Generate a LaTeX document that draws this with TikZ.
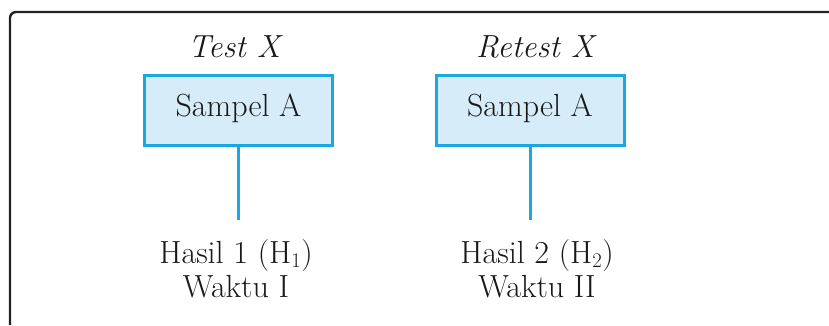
\documentclass[tikz,border=0pt]{standalone}
\usepackage{tikz}
\definecolor{boxline}{HTML}{1BA8E0}
\definecolor{boxfill}{HTML}{D6ECF9}
\definecolor{frameline}{HTML}{222222}
\begin{document}
\begin{tikzpicture}[x=1pt,y=-1pt,
  txt/.style={inner sep=0pt, font=\fontsize{32}{38}\selectfont, text=black!90},
  sbox/.style={draw=boxline, fill=boxfill, line width=3pt, minimum width=188pt, minimum height=70pt, inner sep=0pt},
  conn/.style={draw=boxline, line width=3pt},
  frame/.style={draw=frameline, line width=2.4pt}]
\useasboundingbox (0,0) rectangle (829,325);
% frame
\draw[frame] (10,325) -- (10,18) arc[start angle=180, end angle=270, radius=6] -- (829,12);
% boxes
\node[sbox] (b1) at (238.5,110.5) {};
\node[sbox] (b2) at (530,110.5) {};
\node[txt, anchor=base] (s1) at (238.5,116) {Sampel A};
\node[txt, anchor=base] (s2) at (530,116) {Sampel A};
% labels above
\node[txt, anchor=base] (t1) at (235.5,57) {\textit{Test X}};
\node[txt, anchor=base] (t2) at (536.5,57) {\textit{Retest X}};
% connectors
\coordinate (e1) at (238.5,220);
\coordinate (e2) at (530,220);
\draw[conn] (b1.south) -- (e1);
\draw[conn] (b2.south) -- (e2);
% results
\node[txt, anchor=base] (h1) at (236,263) {Hasil 1 (H$_1$)};
\node[txt, anchor=base] (w1) at (236,297) {Waktu I};
\node[txt, anchor=base] (h2) at (537,263) {Hasil 2 (H$_2$)};
\node[txt, anchor=base] (w2) at (537,297) {Waktu II};
\end{tikzpicture}
\end{document}
